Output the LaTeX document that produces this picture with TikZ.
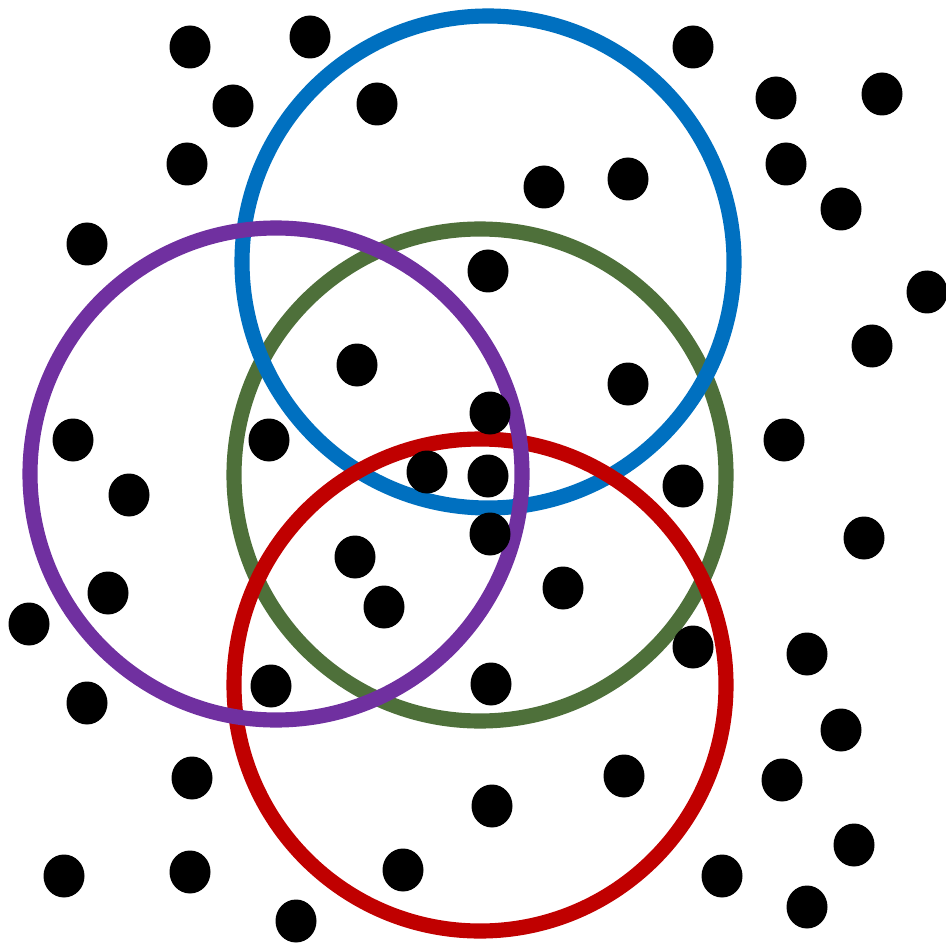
\documentclass[tikz,border=0pt]{standalone}
\usepackage{tikz}

\definecolor{ringblue}{RGB}{0,112,192}
\definecolor{ringgreen}{RGB}{78,112,58}
\definecolor{ringred}{RGB}{192,0,0}
\definecolor{ringpurple}{RGB}{112,48,160}

\tikzset{ring/.style={line width=4.3pt},
         dot/.style={fill=black}}

\begin{document}
\begin{tikzpicture}[x=0.01cm,y=-0.01cm]
\useasboundingbox (0,0) rectangle (946,943);
%\draw[help lines] (0,0) grid[step=100] (946,943);
\draw[ring, ringgreen] (480,475) circle [radius=246];
\draw[ring, ringblue] (488,262) circle [radius=246];
\draw[ring, ringred] (480,685) circle [radius=246];
\draw[ring, ringpurple] (276,474) circle [radius=246];
\foreach \px/\py in {190/47, 310/37, 233/106, 377/104, 187/164, 693/47, 776/98, 882/94,
   786/164, 841/209, 628/179, 544/187, 87/244, 488/271, 927/292, 872/346, 357/365,
   628/384, 490/413, 73/440, 269/440, 784/440, 427/472, 488/476, 683/486, 129/495,
   490/534, 864/538, 355/557, 563/588, 108/593, 384/607, 29/624, 693/647, 807/654,
   271/686, 491/684, 87/703, 841/730, 192/778, 624/776, 782/780, 492/806, 854/845,
   64/876, 190/872, 403/870, 722/876, 807/907, 296/921}
  \fill[dot] (\px,\py) ellipse [x radius=20.5, y radius=21.5];
\end{tikzpicture}
\end{document}
